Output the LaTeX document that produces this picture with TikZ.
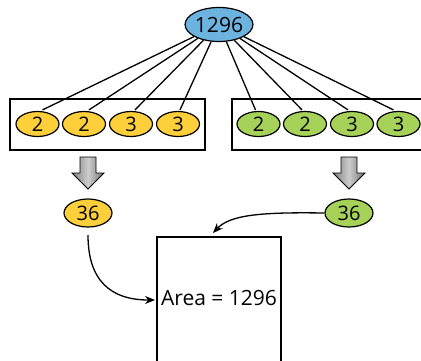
\documentclass[tikz,border=0pt]{standalone}
\usepackage{fontspec}
\setmainfont{Open Sans}
\usetikzlibrary{shapes.geometric,arrows.meta}
\definecolor{topblue}{HTML}{6DB3DF}
\definecolor{ylw}{HTML}{FDCF3A}
\definecolor{grn}{HTML}{A6D25A}
\begin{document}
\begin{tikzpicture}[x=1pt,y=-1pt,
  oval/.style={ellipse,draw=black,line width=1.2pt,inner sep=0pt,font=\fontsize{20}{22}\selectfont},
  small/.style={oval,minimum width=43pt,minimum height=25pt},
  mid/.style={oval,minimum width=48pt,minimum height=28pt},
  group/.style={draw=black,line width=1.6pt},
  link/.style={draw=black,line width=1.3pt},
  curv/.style={draw=black,line width=1.3pt,-{Stealth[length=10pt,width=8pt]}},
  blockarrow/.style={draw=black,line width=0.8pt,left color=gray!100!black,right color=gray!90!black,middle color=gray!40}
]
\useasboundingbox (0,0) rectangle (421,360);
\clip (0,0) rectangle (421,360);
% group boxes
\node[group,minimum width=195pt,minimum height=51pt,inner sep=0pt] (lbox) at (107.5,124.5) {};
\node[group,minimum width=200pt,minimum height=51pt,inner sep=0pt] (rbox) at (332,124.5) {};
% top node
\node[oval,fill=topblue,minimum width=58pt,minimum height=34pt,font=\fontsize{21}{22}\selectfont] (top) at (219,24.5) {1296};
% factor nodes
\node[small,fill=ylw] (l1) at (37.5,124) {2};
\node[small,fill=ylw] (l2) at (84,124) {2};
\node[small,fill=ylw] (l3) at (131,124) {3};
\node[small,fill=ylw] (l4) at (178,124) {3};
\node[small,fill=grn] (r1) at (258.5,124) {2};
\node[small,fill=grn] (r2) at (305,124) {2};
\node[small,fill=grn] (r3) at (352,124) {3};
\node[small,fill=grn] (r4) at (398.5,124) {3};
% links
\foreach \n/\dx in {l1/5,l2/5,l3/4,l4/2,r1/-3,r2/-3,r3/-4,r4/-5}{
  \coordinate (\n t) at ([xshift=\dx pt,yshift=1pt]\n.north);
  \draw[link] (top) -- (\n t);
}
% block arrows
\foreach \cx in {88,349}{
  \draw[blockarrow] (\cx-8,157) -- (\cx+8,157) -- (\cx+8,173) -- (\cx+16,173) -- (\cx,189) -- (\cx-16,173) -- (\cx-8,173) -- cycle;
}
% 36 nodes
\node[mid,fill=ylw] (l36) at (88,213) {36};
\node[mid,fill=grn] (r36) at (349,213) {36};
% square
\draw[line width=1.3pt] (157,237) rectangle (281,364);
\node[font=\fontsize{21}{24}\selectfont,inner sep=0pt] (area) at (219,298) {Area = 1296};
\coordinate (sqtop) at (213,233);
\coordinate (sqleft) at (155,300);
\coordinate (lstart) at (88,235);
\draw[curv] (lstart) .. controls (88,280) and (110,300) .. (sqleft);
\draw[curv] (r36.west) .. controls (260,212) and (230,215) .. (sqtop);
\end{tikzpicture}
\end{document}
